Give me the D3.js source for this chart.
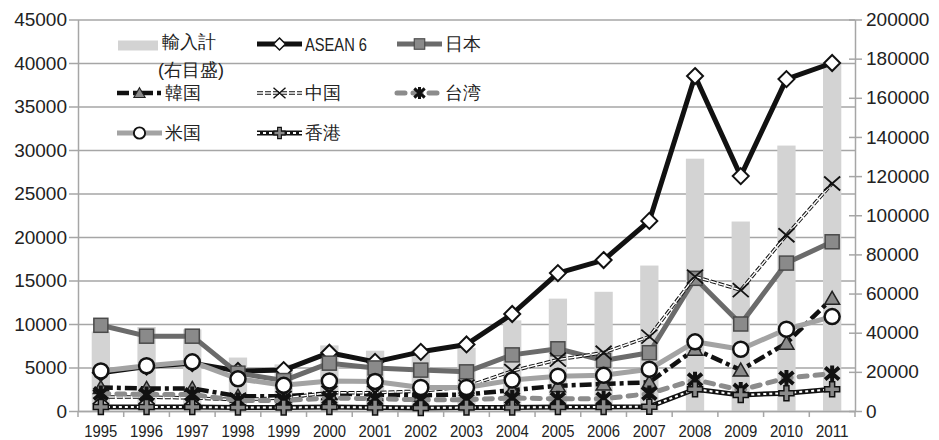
<!DOCTYPE html>
<html>
<head>
<meta charset="utf-8">
<script src="https://cdn.jsdelivr.net/npm/d3@7"></script>
<style>
  body { margin: 0; background: #fff; }
  svg text { font-family: "Liberation Sans", Arial, sans-serif; fill: #222; }
</style>
</head>
<body>
<svg width="939" height="440"></svg>
<script>
const years = ["1995","1996","1997","1998","1999","2000","2001","2002","2003","2004","2005","2006","2007","2008","2009","2010","2011"];
const leftTicks = [0,5000,10000,15000,20000,25000,30000,35000,40000,45000];
const rightTicks = [0,20000,40000,60000,80000,100000,120000,140000,160000,180000,200000];

// 輸入計 (right axis)
const importTotal = [40600,42900,41700,27300,23800,33500,30800,31300,32300,46300,57400,60900,74300,128900,96800,135600,177500];
const asean6 = [4400,5100,5500,4600,4700,6700,5650,6800,7650,11150,15850,17350,21850,38500,27000,38150,40000];
const japan = [9850,8600,8600,4350,3500,5500,4950,4700,4500,6450,7150,5800,6700,15250,10000,17000,19450];
const korea = [2700,2600,2600,1700,1700,2000,1900,1800,1900,2400,2900,3100,3300,7100,4700,7800,12950];
const china = [1600,1600,1500,1300,1500,2100,2100,2300,2800,4600,5900,6700,8550,15450,13900,20200,26150];
const taiwan = [2000,1900,1900,1200,1200,1500,1400,1300,1300,1500,1400,1400,2000,3600,2400,3800,4300];
const usa = [4600,5200,5650,3700,2950,3450,3400,2700,2700,3550,4000,4100,4800,7950,7100,9400,10850];
const hongkong = [450,450,450,400,400,450,400,350,400,400,450,450,500,2500,1850,2050,2500];

const svg = d3.select("svg");
const plotLeft = 78, plotRight = 855, plotTop = 19.5, plotBottom = 411;
const gridColor = "#a6a6a6";

const x = d3.scaleBand().domain(years).range([plotLeft, plotRight]);
const y = d3.scaleLinear().domain([0, 45000]).range([plotBottom, plotTop]);
const yR = d3.scaleLinear().domain([0, 200000]).range([plotBottom, plotTop]);

// gridlines
const grid = svg.append("g").attr("transform", `translate(${plotLeft},0)`)
  .call(d3.axisLeft(y).tickValues(leftTicks).tickSize(-(plotRight - plotLeft)).tickFormat(""));
grid.select(".domain").remove();
grid.selectAll("line").attr("stroke", gridColor).attr("stroke-width", 1.5);

// bars
svg.append("g").selectAll("rect").data(importTotal).join("rect")
  .attr("x", (d, i) => x(years[i]) + x.bandwidth() * 0.3)
  .attr("width", x.bandwidth() * 0.4)
  .attr("y", d => yR(d))
  .attr("height", d => plotBottom - yR(d))
  .attr("fill", "#d3d3d3");

// axes
const fmt = d3.format("d");
const yAxis = svg.append("g").attr("transform", `translate(${plotLeft},0)`)
  .call(d3.axisLeft(y).tickValues(leftTicks).tickFormat(fmt).tickSize(9).tickPadding(2).tickSizeOuter(0));
const yAxisR = svg.append("g").attr("transform", `translate(${plotRight},0)`)
  .call(d3.axisRight(yR).tickValues(rightTicks).tickFormat(fmt).tickSize(7).tickPadding(4).tickSizeOuter(0));
yAxisR.selectAll(".tick").append("line").attr("x2", -6);
[yAxis, yAxisR].forEach(a => {
  a.selectAll("path,line").attr("stroke", gridColor).attr("stroke-width", 1.5);
  a.selectAll("text").attr("font-size", 19).attr("fill", "#222");
});

const xAxis = svg.append("g").attr("transform", `translate(0,${plotBottom})`)
  .call(d3.axisBottom(x).tickSize(0).tickPadding(0));
xAxis.select(".domain").attr("stroke", gridColor).attr("stroke-width", 1.5);
xAxis.selectAll("text").attr("font-size", 17).attr("y", 26).attr("dy", 0)
  .attr("textLength", 33).attr("lengthAdjust", "spacingAndGlyphs").attr("fill", "#222");
xAxis.selectAll(".bnd").data(d3.range(years.length + 1)).join("line")
  .attr("x1", i => plotLeft + i * x.step()).attr("x2", i => plotLeft + i * x.step())
  .attr("y1", 0).attr("y2", 6).attr("stroke", gridColor).attr("stroke-width", 1.5);

// markers
const markers = {
  diamond: g => g.append("path").attr("d", "M0,-8L8,0L0,8L-8,0Z").attr("fill", "#fff").attr("stroke", "#111").attr("stroke-width", 2),
  square: g => g.append("rect").attr("x", -7).attr("y", -7).attr("width", 14).attr("height", 14).attr("fill", "#8a8a8a").attr("stroke", "#4a4a4a").attr("stroke-width", 1.5),
  triangle: g => g.append("path").attr("d", "M0,-7L7.5,6L-7.5,6Z").attr("fill", "#8a8a8a").attr("stroke", "#222").attr("stroke-width", 1.5),
  cross: g => g.append("path").attr("d", "M-8,-7L8,7M-8,7L8,-7").attr("fill", "none").attr("stroke", "#111").attr("stroke-width", 1.8),
  star: g => g.append("path").attr("d", "M-7,-6L7,6M-7,6L7,-6M0,-8L0,8").attr("fill", "none").attr("stroke", "#111").attr("stroke-width", 4),
  circle: g => g.append("circle").attr("r", 7.5).attr("fill", "#fff").attr("stroke", "#111").attr("stroke-width", 2.5),
  plus: g => g.append("path").attr("d", "M-2.5,-7.5H2.5V-2.5H7.5V2.5H2.5V7.5H-2.5V2.5H-7.5V-2.5H-2.5Z").attr("fill", "#8a8a8a").attr("stroke", "#111").attr("stroke-width", 1.5)
};

const series = [
  { name: "ASEAN 6", values: asean6, marker: "diamond", strokes: [{ c: "#111", w: 5 }] },
  { name: "日本", values: japan, marker: "square", strokes: [{ c: "#6b6b6b", w: 5 }] },
  { name: "韓国", values: korea, marker: "triangle", strokes: [{ c: "#111", w: 4.5, dash: "12,4,4,4" }] },
  { name: "中国", values: china, marker: "cross", strokes: [{ c: "#111", w: 3.5, dash: "6,2" }, { c: "#fff", w: 1.5, dash: "6,2" }] },
  { name: "台湾", values: taiwan, marker: "star", strokes: [{ c: "#8c8c8c", w: 5, dash: "8,8", cap: "round" }] },
  { name: "米国", values: usa, marker: "circle", strokes: [{ c: "#a3a3a3", w: 5 }] },
  { name: "香港", values: hongkong, marker: "plus", strokes: [{ c: "#111", w: 5 }, { c: "#fff", w: 2, dash: "3,3" }] }
];

const line = d3.line().x((d, i) => x(years[i]) + x.bandwidth() / 2).y(d => y(d));

series.forEach(s => {
  const g = svg.append("g");
  s.strokes.forEach(st => {
    g.append("path").attr("d", line(s.values)).attr("fill", "none")
      .attr("stroke", st.c).attr("stroke-width", st.w)
      .attr("stroke-dasharray", st.dash || null)
      .attr("stroke-linecap", st.cap || "butt").attr("stroke-linejoin", "round");
  });
  s.values.forEach((v, i) => {
    const m = g.append("g").attr("transform", `translate(${x(years[i]) + x.bandwidth() / 2},${y(v)})`);
    markers[s.marker](m);
  });
});

// legend
const lg = svg.append("g");
const jp = '"Noto Sans CJK JP", sans-serif';
lg.append("rect").attr("x", 118).attr("y", 40.5).attr("width", 40).attr("height", 10).attr("fill", "#d3d3d3");
lg.append("text").attr("x", 162).attr("y", 42).attr("dy", "0.35em").attr("font-size", 18).attr("font-family", jp).text("輸入計");
lg.append("text").attr("x", 158).attr("y", 70).attr("dy", "0.35em").attr("font-size", 18).attr("font-family", jp).text("(右目盛)");

const slots = [
  [257, 44], [397, 44],
  [117, 93], [257, 93], [397, 93],
  [117, 133], [257, 133]
];
series.forEach((s, k) => {
  const [sx, sy] = slots[k];
  const g = lg.append("g");
  s.strokes.forEach(st => {
    g.append("line").attr("x1", sx).attr("x2", sx + 45).attr("y1", sy).attr("y2", sy)
      .attr("stroke", st.c).attr("stroke-width", st.w)
      .attr("stroke-dasharray", st.dash || null).attr("stroke-linecap", st.cap || "butt");
  });
  const m = g.append("g").attr("transform", `translate(${sx + 22.5},${sy}) scale(0.75)`);
  markers[s.marker](m);
  const t = g.append("text").attr("x", sx + 48).attr("y", sy).attr("dy", "0.35em").attr("font-size", 18).text(s.name);
  if (s.name === "ASEAN 6") t.attr("textLength", 62).attr("lengthAdjust", "spacingAndGlyphs").attr("font-size", 19);
  else t.attr("font-family", jp);
});
</script>
</body>
</html>
